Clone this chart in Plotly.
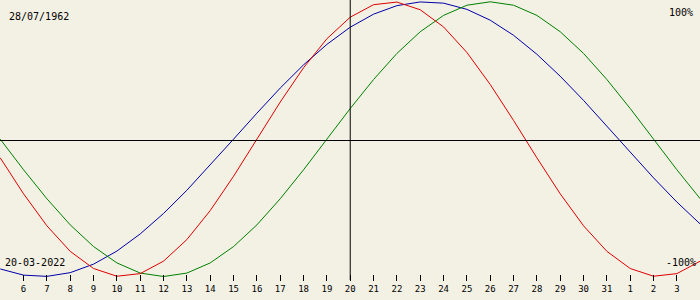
import plotly.graph_objects as go

# Day offsets relative to the selected date (20-03-2022), one point per day
days = list(range(-15, 16))

# Biorhythm values (fraction of 100%)
physical = [-0.136, -0.398, -0.631, -0.817, -0.942, -0.998, -0.979, -0.888, -0.731, -0.520,
            -0.270, 0.000, 0.270, 0.520, 0.731, 0.888, 0.979, 0.998, 0.942, 0.817,
            0.631, 0.398, 0.136, -0.136, -0.398, -0.631, -0.817, -0.942, -0.998, -0.979,
            -0.888]
emotional = [0.000, -0.223, -0.434, -0.624, -0.782, -0.901, -0.975, -1.000, -0.975, -0.901,
             -0.782, -0.624, -0.434, -0.223, 0.000, 0.223, 0.434, 0.624, 0.782, 0.901,
             0.975, 1.000, 0.975, 0.901, 0.782, 0.624, 0.434, 0.223, 0.000, -0.223,
             -0.434]
intellectual = [-0.945, -0.990, -0.999, -0.972, -0.910, -0.815, -0.690, -0.541, -0.372, -0.189,
                0.000, 0.189, 0.372, 0.541, 0.690, 0.815, 0.910, 0.972, 0.999, 0.990,
                0.945, 0.866, 0.756, 0.618, 0.458, 0.282, 0.095, -0.095, -0.282, -0.458,
                -0.618]

tick_vals = list(range(-14, 15))
tick_text = ["6", "7", "8", "9", "10", "11", "12", "13", "14", "15", "16", "17", "18", "19",
             "20", "21", "22", "23", "24", "25", "26", "27", "28", "29", "30", "31",
             "1", "2", "3"]

birth_date = "28/07/1962"
current_date = "20-03-2022"
top_label = "100%"
bottom_label = "-100%"

BG = "#F3F0E4"
FONT = "DejaVu Sans Mono"

fig = go.Figure()
fig.add_trace(go.Scatter(x=days, y=intellectual, mode="lines",
                         line=dict(color="#0000A8", width=1), hoverinfo="skip"))
fig.add_trace(go.Scatter(x=days, y=emotional, mode="lines",
                         line=dict(color="#008000", width=1), hoverinfo="skip"))
fig.add_trace(go.Scatter(x=days, y=physical, mode="lines",
                         line=dict(color="#E00000", width=1), hoverinfo="skip"))

# axis lines: zero line and current-day line
fig.add_shape(type="line", xref="paper", yref="paper", x0=0, x1=1,
              y0=1 - 140.5 / 300, y1=1 - 140.5 / 300, line=dict(color="black", width=1))
fig.add_shape(type="line", xref="x", yref="paper", x0=0, x1=0,
              y0=1 - 280 / 300, y1=1, line=dict(color="black", width=1))

ann = dict(xref="paper", yref="paper", showarrow=False,
           font=dict(family=FONT, size=10, color="black"))
fig.add_annotation(text=birth_date, x=7 / 700, y=1 - 17 / 300, xanchor="left", yanchor="middle", **ann)
fig.add_annotation(text=current_date, x=2.5 / 700, y=1 - 262 / 300, xanchor="left", yanchor="middle", **ann)
fig.add_annotation(text=top_label, x=695 / 700, y=1 - 12 / 300, xanchor="right", yanchor="middle", **ann)
fig.add_annotation(text=bottom_label, x=698 / 700, y=1 - 262 / 300, xanchor="right", yanchor="middle", **ann)

fig.update_layout(
    width=700, height=300,
    margin=dict(l=0, r=0, t=0, b=0),
    paper_bgcolor=BG, plot_bgcolor=BG,
    showlegend=False,
    xaxis=dict(range=[-15.01, 14.99], showgrid=False, zeroline=False, showline=False,
               anchor="free", position=(300 - 274) / 300,
               tickmode="array", tickvals=tick_vals, ticktext=tick_text,
               ticks="outside", ticklen=6, tickwidth=1, tickcolor="black",
               tickfont=dict(family=FONT, size=9, color="black"), fixedrange=True),
    yaxis=dict(range=[(139.15 - 300) / 137.35, 139.15 / 137.35], showgrid=False,
               zeroline=False, showline=False, showticklabels=False, ticks="",
               fixedrange=True),
)

fig.write_html("out.html")
